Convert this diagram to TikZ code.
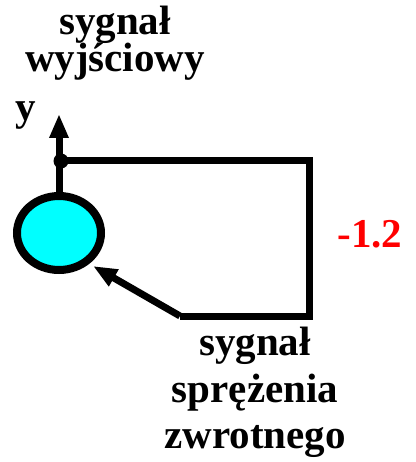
\documentclass[tikz,border=0pt]{standalone}
\usepackage{fontspec}
\setmainfont{Liberation Serif}
\usetikzlibrary{arrows.meta,shapes.geometric}
\definecolor{aqua}{RGB}{0,255,255}
\definecolor{redlbl}{RGB}{255,0,0}
\begin{document}
\begin{tikzpicture}[x=1pt,y=-1pt,
  lbl/.style={font=\fontsize{41}{41}\selectfont\bfseries, anchor=base, inner sep=0pt},
  wire/.style={line width=7pt, line join=miter},
  tip/.style={-{Triangle[length=24pt,width=18pt]}}]
\fill[white] (0,0) rectangle (415,462);
\useasboundingbox (0,0) rectangle (415,462);
% summing node
\node[ellipse, draw, line width=8pt, fill=aqua, minimum width=84pt, minimum height=74pt, inner sep=0pt] (sum) at (59,233) {};
\coordinate (yt) at (59,114);
\coordinate (br) at (61,161);
\coordinate (tr) at (309,161);
\coordinate (brr) at (309,316);
\coordinate (fb) at (180,316);
\coordinate (in) at (93,266);
% output arrow
\draw[wire, tip] (sum.north) -- (yt);
\fill (br) circle (7.5pt);
% feedback loop
\draw[wire] (br) -- (tr) -- (brr) -- (fb);
\draw[wire, tip] (fb) -- (in);
% labels
\node[lbl] (t1) at (115,35) {sygnał};
\node[lbl] (t2) at (115,72) {wyjściowy};
\node[lbl] (ty) at (26,121) {y};
\node[lbl, text=redlbl] (g) at (370,247) {-1.2};
\node[lbl] (b1) at (255,355) {sygnał};
\node[lbl] (b2) at (255,402) {sprężenia};
\node[lbl] (b3) at (255,448) {zwrotnego};
\end{tikzpicture}
\end{document}
